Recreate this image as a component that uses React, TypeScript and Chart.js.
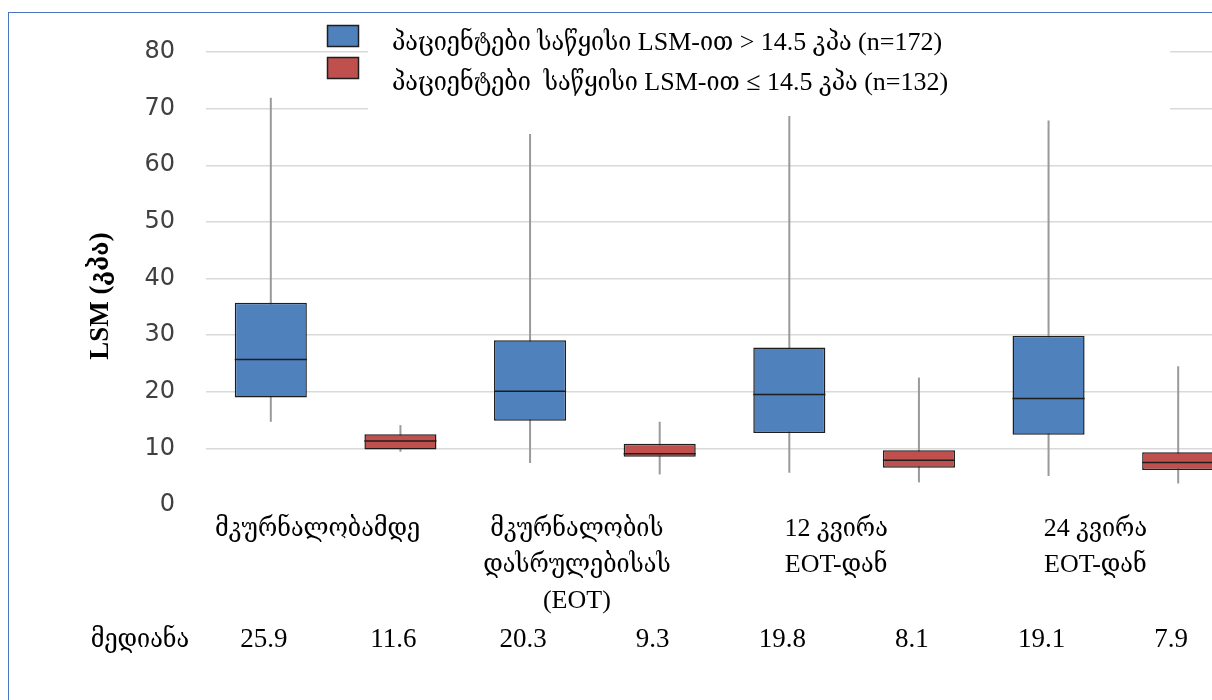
import React, { useEffect, useRef } from "react";
import { Chart, registerables } from "chart.js";

Chart.register(...registerables);

// ---------- data ----------
const categories: string[][] = [
  ["მკურნალობამდე"],
  ["მკურნალობის", "დასრულებისას", "(EOT)"],
  ["12 კვირა", "EOT-დან"],
  ["24 კვირა", "EOT-დან"],
];
const seriesNames = [
  "პაციენტები საწყისი LSM-ით > 14.5 კპა (n=172)",
  "პაციენტები  საწყისი LSM-ით ≤ 14.5 კპა (n=132)",
];
const highMin = [14.7, 7.4, 5.7, 5.1];
const highQ1 = [19.0, 14.9, 12.7, 12.4];
const highMedian = [25.7, 20.1, 19.5, 18.8];
const highQ3 = [35.7, 29.1, 27.8, 29.9];
const highMax = [71.9, 65.5, 68.7, 67.9];

const lowMin = [9.4, 5.4, 4.0, 3.8];
const lowQ1 = [9.8, 8.5, 6.6, 6.2];
const lowMedian = [11.3, 9.05, 7.9, 7.5];
const lowQ3 = [12.5, 10.8, 9.65, 9.3];
const lowMax = [14.1, 14.7, 22.5, 24.5];

const medianRowLabel = "მედიანა";
const highMedianText = ["25.9", "20.3", "19.8", "19.1"];
const lowMedianText = ["11.6", "9.3", "8.1", "7.9"];

const yAxisTitle = "LSM (კპა)";
const yMin = 0;
const yMax = 80;
const yStep = 10;

// ---------- styles ----------
const BLUE = "#4F81BD";
const RED = "#C0504D";
const BOX_BORDER = "#1e1e1e";
const WHISKER = "#9a9a9a";
const GRID = "#d9d9d9";
const SERIF = '"Liberation Serif", "DejaVu Serif Condensed", "DejaVu Serif", serif';

const boxPlugin = {
  id: "boxExtras",
  beforeDatasetsDraw(chart: any) {
    const ctx = chart.ctx;
    const y = chart.scales.y;
    const sets = [
      { min: highMin, max: highMax },
      { min: lowMin, max: lowMax },
    ];
    ctx.save();
    ctx.strokeStyle = WHISKER;
    ctx.lineWidth = 2;
    sets.forEach((s, di) => {
      const meta = chart.getDatasetMeta(di);
      meta.data.forEach((el: any, i: number) => {
        ctx.beginPath();
        ctx.moveTo(el.x, y.getPixelForValue(s.min[i]));
        ctx.lineTo(el.x, y.getPixelForValue(s.max[i]));
        ctx.stroke();
      });
    });
    ctx.restore();
  },
  afterDatasetsDraw(chart: any) {
    const ctx = chart.ctx;
    const y = chart.scales.y;
    const meds = [highMedian, lowMedian];
    ctx.save();
    ctx.strokeStyle = BOX_BORDER;
    ctx.lineWidth = 1.5;
    meds.forEach((m, di) => {
      const meta = chart.getDatasetMeta(di);
      meta.data.forEach((el: any, i: number) => {
        const py = y.getPixelForValue(m[i]);
        ctx.beginPath();
        ctx.moveTo(el.x - el.width / 2, py);
        ctx.lineTo(el.x + el.width / 2, py);
        ctx.stroke();
      });
    });
    ctx.restore();
  },
  afterDraw(chart: any) {
    const ctx = chart.ctx;
    const x = chart.scales.x;
    ctx.save();
    // y axis title
    ctx.save();
    ctx.translate(101, 296);
    ctx.rotate(-Math.PI / 2);
    ctx.font = `bold 27px ${SERIF}`;
    ctx.fillStyle = "#000";
    ctx.textAlign = "center";
    ctx.textBaseline = "middle";
    ctx.fillText(yAxisTitle, 0, 0);
    ctx.restore();

    // category labels
    ctx.font = `26px ${SERIF}`;
    ctx.fillStyle = "#000";
    ctx.textAlign = "center";
    ctx.textBaseline = "middle";
    categories.forEach((lines, i) => {
      const cx = x.getPixelForValue(i) - 18;
      lines.forEach((ln, k) => {
        ctx.fillText(ln, cx, 529 + k * 36);
      });
    });

    // median row
    ctx.font = `26px ${SERIF}`;
    ctx.fillText(medianRowLabel, 140, 640);
    ctx.font = `27px ${SERIF}`;
    const mt = [highMedianText, lowMedianText];
    mt.forEach((arr, di) => {
      const meta = chart.getDatasetMeta(di);
      meta.data.forEach((el: any, i: number) => {
        ctx.fillText(arr[i], el.x - 7, 640);
      });
    });

    // legend
    ctx.fillStyle = "#fff";
    ctx.fillRect(368, 14, 802, 98);
    const colors = [BLUE, RED];
    const rows = [36, 68];
    colors.forEach((c, k) => {
      ctx.fillStyle = c;
      ctx.fillRect(327.5, rows[k] - 10.5, 31, 21);
      ctx.strokeStyle = BOX_BORDER;
      ctx.lineWidth = 1.5;
      ctx.strokeRect(327.5, rows[k] - 10.5, 31, 21);
    });
    ctx.fillStyle = "#000";
    ctx.textAlign = "left";
    ctx.font = `26px ${SERIF}`;
    ctx.fillText(seriesNames[0], 392, 43);
    ctx.fillText(seriesNames[1], 392, 83);
    ctx.restore();
  },
};

export default function App() {
  const ref = useRef<HTMLCanvasElement | null>(null);
  useEffect(() => {
    if (!ref.current) return;
    const labels = categories.map((c) => c.join(" "));
    const chart = new Chart(ref.current, {
      type: "bar",
      data: {
        labels,
        datasets: [
          {
            label: seriesNames[0],
            data: highQ1.map((q, i) => [q, highQ3[i]]) as any,
            backgroundColor: BLUE,
            borderColor: BOX_BORDER,
            borderWidth: 1.5,
            borderSkipped: false,
          },
          {
            label: seriesNames[1],
            data: lowQ1.map((q, i) => [q, lowQ3[i]]) as any,
            backgroundColor: RED,
            borderColor: BOX_BORDER,
            borderWidth: 1.5,
            borderSkipped: false,
          },
        ],
      },
      options: {
        responsive: false,
        animation: false,
        devicePixelRatio: 1,
        layout: { padding: { top: 52, bottom: 195, right: 17, left: 0 } },
        datasets: {
          bar: { categoryPercentage: 1, barPercentage: 0.556 },
        },
        plugins: {
          legend: { display: false },
          tooltip: { enabled: false },
          title: { display: false },
        },
        scales: {
          x: { display: false },
          y: {
            min: yMin,
            max: yMax,
            afterFit: (s: any) => {
              s.width = 206;
            },
            border: { display: false },
            grid: {
              drawTicks: false,
              lineWidth: 1.5,
              color: (c: any) => (c.tick && c.tick.value === 0 ? "rgba(0,0,0,0)" : GRID),
            },
            ticks: {
              stepSize: yStep,
              padding: 31,
              color: "#404040",
              font: { family: '"DejaVu Sans", Verdana, sans-serif', size: 24 },
            },
          },
        },
      },
      plugins: [boxPlugin],
    });
    return () => chart.destroy();
  }, []);

  return (
    <div
      style={{
        position: "fixed",
        left: 0,
        top: 0,
        width: 1212,
        height: 700,
        overflow: "hidden",
        background: "#fff",
      }}
    >
      <div
        style={{
          position: "absolute",
          left: 8,
          top: 12,
          width: 2000,
          height: 2000,
          borderLeft: "1.5px solid #4A76C0",
          borderTop: "1.5px solid #4A76C0",
        }}
      />
      <canvas
        ref={ref}
        width={1260}
        height={700}
        style={{ position: "absolute", left: 0, top: 0, width: 1260, height: 700 }}
      />
    </div>
  );
}
